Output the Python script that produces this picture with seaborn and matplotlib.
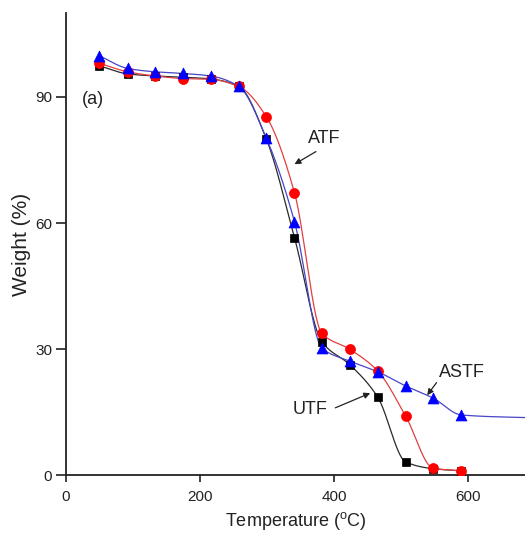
import numpy as np
import pandas as pd
import matplotlib
matplotlib.use("Agg")
import matplotlib.pyplot as plt
import seaborn as sns

# Thermogravimetric curves of the three fibre samples
temperature = [50, 92, 133, 175, 216, 258, 299, 341, 382, 424, 465, 507, 548, 590]
utf = [97.4, 95.5, 95.0, 94.7, 94.3, 92.5, 80.0, 56.5, 31.7, 26.2, 18.6, 3.1, 1.5, 1.0]
atf = [98.0, 96.0, 95.0, 94.4, 94.2, 92.5, 85.3, 67.2, 33.7, 29.9, 24.8, 14.0, 1.6, 1.0]
astf = [99.8, 96.8, 96.0, 95.6, 95.0, 92.5, 80.2, 60.3, 30.2, 27.1, 24.6, 21.2, 18.3, 14.3]
# ASTF trace keeps recording past the last marked reading
astf_tail_t = [700]
astf_tail_w = [13.6]

x_ticks = [0, 200, 400, 600]
y_ticks = [0, 30, 60, 90]


def pchip(x, y, xs):
    """Monotone piecewise cubic Hermite curve through (x, y)."""
    x = np.asarray(x, float)
    y = np.asarray(y, float)
    h = np.diff(x)
    d = np.diff(y) / h
    n = len(x)
    m = np.zeros(n)
    for k in range(1, n - 1):
        if d[k - 1] * d[k] > 0:
            w1 = 2 * h[k] + h[k - 1]
            w2 = h[k] + 2 * h[k - 1]
            m[k] = (w1 + w2) / (w1 / d[k - 1] + w2 / d[k])
    m[0] = d[0]
    m[-1] = d[-1]
    idx = np.clip(np.searchsorted(x, xs) - 1, 0, n - 2)
    t = (xs - x[idx]) / h[idx]
    h00 = 2 * t**3 - 3 * t**2 + 1
    h10 = t**3 - 2 * t**2 + t
    h01 = -2 * t**3 + 3 * t**2
    h11 = t**3 - t**2
    return (h00 * y[idx] + h10 * h[idx] * m[idx]
            + h01 * y[idx + 1] + h11 * h[idx] * m[idx + 1])


sns.set_style("ticks")
plt.rcParams["font.family"] = ["Liberation Sans", "DejaVu Sans"]
plt.rcParams["mathtext.fontset"] = "custom"
plt.rcParams["mathtext.rm"] = "Liberation Sans"

fig = plt.figure(figsize=(5.25, 5.39), dpi=100)
ax = fig.add_axes([0.1257, 0.1187, 0.8743, 0.8572])

series = [
    ("UTF", utf, [], [], "#2a2a2a", "black", "s", 40),
    ("ATF", atf, [], [], "#e04040", "#ff0000", "o", 52),
    ("ASTF", astf, astf_tail_t, astf_tail_w, "#4646c8", "#0000ff", "^", 62),
]

for name, w, tail_t, tail_w, lc, mc, mk, ms in series:
    tx = list(temperature) + tail_t
    tw = list(w) + tail_w
    xs = np.linspace(tx[0], tx[-1], 800)
    curve = pd.DataFrame({"T": xs, "W": pchip(tx, tw, xs)})
    sns.lineplot(data=curve, x="T", y="W", ax=ax, color=lc, lw=0.9,
                 sort=False, estimator=None)

for name, w, tail_t, tail_w, lc, mc, mk, ms in series:
    pts = pd.DataFrame({"T": temperature, "W": w})
    sns.scatterplot(data=pts, x="T", y="W", ax=ax, color=mc, marker=mk,
                    s=ms, edgecolor=mc, linewidth=0.5, zorder=3)

ax.set_xlim(0, 685)
ax.set_ylim(0, 110)
ax.set_xticks(x_ticks)
ax.set_yticks(y_ticks)
sns.despine(ax=ax)
for sp in ("left", "bottom"):
    ax.spines[sp].set_linewidth(1.3)
    ax.spines[sp].set_color("#222222")
ax.tick_params(direction="out", width=1.2, colors="#222222",
               labelsize=11, labelcolor="#222222")
ax.tick_params(axis="x", length=5, pad=6)
ax.tick_params(axis="y", length=7, pad=3)

ax.set_xlabel(r"Temperature ($^{\rm o}$C)", fontsize=13, color="#222222", labelpad=4)
ax.set_ylabel("Weight (%)", fontsize=15, color="#222222", labelpad=3)

ax.text(40, 89.3, "(a)", fontsize=13, ha="center", va="center", color="#222222")

arrow = dict(arrowstyle="-|>", color="#222222", lw=0.9, mutation_scale=9,
             shrinkA=0, shrinkB=0)
ax.annotate("", xy=(341, 74), xytext=(373, 77), arrowprops=arrow)
ax.text(385, 80.2, "ATF", fontsize=13, ha="center", va="center", color="#222222")
ax.annotate("", xy=(539, 19), xytext=(553, 22), arrowprops=arrow)
ax.text(591, 24.5, "ASTF", fontsize=13, ha="center", va="center", color="#222222")
ax.annotate("", xy=(454, 19.5), xytext=(402, 16), arrowprops=arrow)
ax.text(364, 15.5, "UTF", fontsize=13, ha="center", va="center", color="#222222")

fig.savefig("out.png", dpi=100)
